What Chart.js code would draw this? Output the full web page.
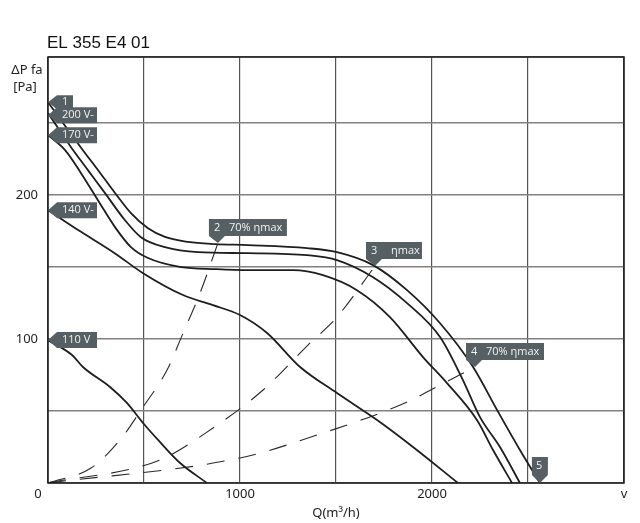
<!DOCTYPE html>
<html>
<head>
<meta charset="utf-8">
<script src="https://cdn.jsdelivr.net/npm/chart.js@4.4.1/dist/chart.umd.min.js"></script>
<style>
html, body { margin: 0; padding: 0; background: #fff; }
#wrap { width: 640px; height: 523px; position: relative; }
</style>
</head>
<body>
<div id="wrap"><canvas id="myChart"></canvas></div>
<script>
const chartTitle = 'EL 355 E4 01';

// fan curves, Q in m3/h, P in Pa
const qCurve1 = [0, 172, 260, 349, 432, 521, 609, 729, 870, 1042, 1349, 1505, 1693, 1870, 2042, 2214, 2339, 2458, 2562];
const pCurve1 = [264.5, 233, 217.5, 201.5, 187.5, 177, 171, 167.5, 166, 165.3, 163.2, 160.4, 151.4, 134, 111, 80.6, 50.7, 22.9, 0];

const q200 = [0, 120, 208, 297, 401, 484, 609, 781, 1042, 1349, 1505, 1693, 1870, 2042, 2161, 2250, 2354, 2458];
const p200 = [257, 233.3, 217.4, 201.4, 182.6, 170.8, 163.9, 160.4, 159.7, 158.3, 154.9, 143, 125, 101.4, 71.5, 45.8, 25, 0];

const q170 = [0, 89, 172, 260, 349, 432, 521, 693, 870, 1042, 1276, 1432, 1609, 1781, 1953, 2078, 2234, 2318, 2417];
const p170 = [241.7, 231.3, 215.3, 196.5, 177.8, 163.9, 156.3, 150, 148.6, 147.9, 147.9, 144.4, 134, 115.3, 87.5, 69.4, 43.75, 22.9, 0];

const q140 = [0, 172, 349, 495, 703, 859, 1000, 1141, 1313, 1505, 1714, 1901, 2135];
const p140 = [189.6, 174.5, 159.5, 145.8, 130.6, 123.6, 116.7, 104.2, 80.6, 62.5, 43.75, 25, 0];

const q110 = [0, 125, 182, 323, 411, 495, 583, 688, 828];
const p110 = [99.3, 88.9, 80.6, 66.7, 55.6, 41.7, 28.5, 13.9, 0];

// system lines (dashed)
const qSys2 = [0, 224, 375, 495, 620, 703, 792, 885];
const pSys2 = [0, 10.4, 29.9, 52.8, 78.5, 104, 132, 166.7];

const qSys3 = [0, 583, 859, 1120, 1354, 1505, 1703];
const pSys3 = [0, 16, 38.2, 64.6, 95.8, 115.3, 150.7];

const qSys4 = [0, 1000, 1432, 1859, 2042, 2224];
const pSys4 = [0, 17.4, 34.7, 55.6, 68, 80.6];

// callouts: text, anchor Q, anchor P
const calloutNames = ['1', '200 V-', '170 V-', '140 V-', '110 V', '2', '3', '4', '5'];
const calloutNotes = ['', '', '', '', '', '70% ηmax', 'ηmax', '70% ηmax', ''];
const calloutQ = [0, 0, 0, 0, 0, 885, 1703, 2224, 2562];
const calloutP = [264.6, 255.6, 241.7, 189.6, 99.3, 166.7, 150.7, 80.6, 0];

const pts = (xs, ys) => xs.map((v, i) => ({ x: v, y: ys[i] }));

const solid = (data) => ({
    data: data,
    borderColor: '#1e1e1e',
    borderWidth: 1.8,
    pointRadius: 0,
    fill: false,
    cubicInterpolationMode: 'monotone'
});

const dashed = (data) => ({
    data: data,
    borderColor: '#2a2a2a',
    borderWidth: 1.1,
    borderDash: [18, 14],
    pointRadius: 0,
    fill: false,
    cubicInterpolationMode: 'monotone'
});

const boxFill = '#566064';

function drawCallout(ctx, tx, ty, name, note, idx) {
    ctx.fillStyle = boxFill;
    ctx.beginPath();
    let textX, textY;
    if (idx <= 4) {
        const w = name === '1' ? 25 : 49;
        const h = name === '1' ? 7 : 8;
        ctx.moveTo(tx, ty);
        ctx.lineTo(tx + 9, ty - h);
        ctx.lineTo(tx + w, ty - h);
        ctx.lineTo(tx + w, ty + h);
        ctx.lineTo(tx + 9, ty + h);
        textX = tx + 14;
        textY = ty;
    } else if (name === '5') {
        const L = tx - 8, B = ty - 8, T = B - 18;
        ctx.moveTo(L, T);
        ctx.lineTo(L + 16, T);
        ctx.lineTo(L + 16, B);
        ctx.lineTo(tx, ty);
        ctx.lineTo(L, B);
        textX = L + 4;
        textY = (T + B) / 2;
    } else {
        const w = note === 'ηmax' ? 56 : 78;
        const L = tx - 9, B = ty - 7, T = B - 17;
        ctx.moveTo(L, T);
        ctx.lineTo(L + w, T);
        ctx.lineTo(L + w, B);
        ctx.lineTo(tx + 7, B);
        ctx.lineTo(tx, ty);
        ctx.lineTo(L, B);
        textX = L + 5;
        textY = (T + B) / 2;
    }
    ctx.closePath();
    ctx.fill();

    ctx.fillStyle = '#f2f2f2';
    ctx.font = '11px "Open Sans", "Noto Sans", sans-serif';
    ctx.textAlign = 'left';
    ctx.textBaseline = 'middle';
    ctx.fillText(name, textX, textY);
    if (note) {
        ctx.fillText(note, textX + (note === 'ηmax' ? 20 : 15), textY);
    }
}

const decorPlugin = {
    id: 'decor',
    afterDraw(chart) {
        const { ctx, chartArea: a, scales: { x, y } } = chart;
        ctx.save();

        // frame
        ctx.strokeStyle = '#1a1a1a';
        ctx.lineWidth = 1.5;
        ctx.strokeRect(a.left, a.top, a.right - a.left, a.bottom - a.top);

        // title + y axis title
        ctx.fillStyle = '#111';
        ctx.textBaseline = 'alphabetic';
        ctx.textAlign = 'left';
        ctx.font = '17px "Liberation Sans", Arial, sans-serif';
        ctx.fillText(chartTitle, 47, 48);

        ctx.fillStyle = '#222';
        ctx.font = '13px "Noto Sans", sans-serif';
        ctx.textAlign = 'center';
        ctx.fillText('ΔP fa', 27, 74);
        ctx.fillText('[Pa]', 25, 91);
        ctx.fillText('0', 38, 498);

        // callouts
        calloutNames.forEach((name, i) => {
            const tx = x.getPixelForValue(calloutQ[i]);
            const ty = y.getPixelForValue(calloutP[i]);
            drawCallout(ctx, tx, ty, name, calloutNotes[i], i);
        });

        ctx.restore();
    }
};

const ctx = document.getElementById('myChart').getContext('2d');

const myChart = new Chart(ctx, {
    type: 'line',
    data: {
        datasets: [
            solid(pts(qCurve1, pCurve1)),
            solid(pts(q200, p200)),
            solid(pts(q170, p170)),
            solid(pts(q140, p140)),
            solid(pts(q110, p110)),
            dashed(pts(qSys2, pSys2)),
            dashed(pts(qSys3, pSys3)),
            dashed(pts(qSys4, pSys4))
        ]
    },
    options: {
        responsive: true,
        maintainAspectRatio: false,
        animation: false,
        layout: {
            padding: { left: 0, right: 16, top: 57, bottom: 0 }
        },
        plugins: {
            legend: { display: false },
            tooltip: { enabled: false }
        },
        scales: {
            x: {
                type: 'linear',
                min: 0,
                max: 3000,
                afterFit: (scale) => { scale.height = 40; },
                border: { display: false },
                grid: {
                    drawTicks: false,
                    color: '#555',
                    lineWidth: 1.2
                },
                ticks: {
                    stepSize: 500,
                    autoSkip: false,
                    maxRotation: 0,
                    padding: 3,
                    color: '#222',
                    font: { family: '"Noto Sans", sans-serif', size: 13 },
                    callback: (v) => v === 3000 ? 'v' : (v > 0 && v % 1000 === 0 ? String(v) : '')
                },
                title: {
                    display: true,
                    text: 'Q(m³/h)',
                    color: '#222',
                    padding: { top: 0, bottom: 2 },
                    font: { family: '"Noto Sans", sans-serif', size: 13 }
                }
            },
            y: {
                type: 'linear',
                min: 0,
                max: 296,
                afterFit: (scale) => { scale.width = 48; },
                border: { display: false },
                grid: {
                    drawTicks: false,
                    color: '#808080',
                    lineWidth: 1.5
                },
                ticks: {
                    stepSize: 50,
                    padding: 10,
                    color: '#222',
                    font: { family: '"Noto Sans", sans-serif', size: 13 },
                    callback: (v) => (v === 100 || v === 200) ? String(v) : ''
                }
            }
        }
    },
    plugins: [decorPlugin]
});
</script>
</body>
</html>
